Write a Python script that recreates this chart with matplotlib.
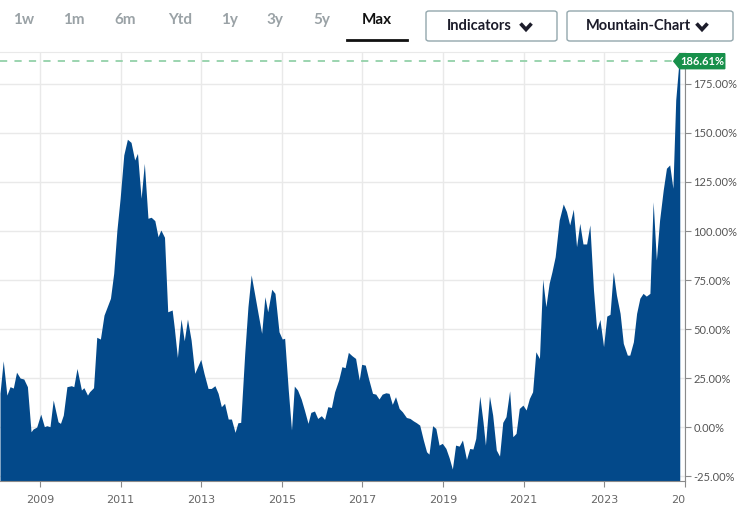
import matplotlib
matplotlib.use("Agg")
import matplotlib.pyplot as plt
import matplotlib.transforms as mtransforms
from matplotlib.patches import FancyBboxPatch, Polygon
from matplotlib.lines import Line2D

# performance in % over time (decimal years)
years = [2008.01, 2008.09, 2008.18, 2008.26, 2008.34, 2008.42, 2008.51, 2008.60, 2008.69, 2008.78,
         2008.83, 2008.92, 2009.02, 2009.11, 2009.17, 2009.25, 2009.33, 2009.45, 2009.51, 2009.58,
         2009.67, 2009.78, 2009.84, 2009.92, 2010.03, 2010.09, 2010.18, 2010.23, 2010.33, 2010.41,
         2010.50, 2010.59, 2010.75, 2010.83, 2010.91, 2010.99, 2011.08, 2011.17, 2011.26, 2011.35,
         2011.42, 2011.51, 2011.59, 2011.68, 2011.76, 2011.85, 2011.93, 2012.00, 2012.09, 2012.17,
         2012.28, 2012.33, 2012.41, 2012.50, 2012.58, 2012.66, 2012.75, 2012.84, 2012.91, 2012.99,
         2013.07, 2013.17, 2013.25, 2013.34, 2013.42, 2013.50, 2013.58, 2013.67, 2013.75, 2013.84,
         2013.91, 2013.98, 2014.08, 2014.16, 2014.24, 2014.33, 2014.41, 2014.50, 2014.58, 2014.65,
         2014.75, 2014.83, 2014.93, 2015.01, 2015.07, 2015.16, 2015.24, 2015.31, 2015.39, 2015.48,
         2015.56, 2015.65, 2015.72, 2015.81, 2015.89, 2015.98, 2016.06, 2016.14, 2016.23, 2016.31,
         2016.41, 2016.49, 2016.57, 2016.65, 2016.74, 2016.83, 2016.92, 2016.98, 2017.07, 2017.15,
         2017.25, 2017.33, 2017.41, 2017.49, 2017.58, 2017.66, 2017.74, 2017.82, 2017.91, 2017.99,
         2018.09, 2018.18, 2018.26, 2018.34, 2018.42, 2018.51, 2018.59, 2018.65, 2018.74, 2018.82,
         2018.90, 2018.98, 2019.07, 2019.15, 2019.23, 2019.31, 2019.40, 2019.48, 2019.58, 2019.66,
         2019.74, 2019.81, 2019.91, 2019.99, 2020.05, 2020.15, 2020.23, 2020.32, 2020.40, 2020.48,
         2020.56, 2020.65, 2020.73, 2020.81, 2020.89, 2020.98, 2021.06, 2021.14, 2021.22, 2021.30,
         2021.39, 2021.47, 2021.55, 2021.63, 2021.70, 2021.78, 2021.88, 2021.98, 2022.06, 2022.14,
         2022.23, 2022.31, 2022.39, 2022.47, 2022.56, 2022.64, 2022.73, 2022.81, 2022.89, 2022.98,
         2023.06, 2023.14, 2023.22, 2023.30, 2023.39, 2023.47, 2023.57, 2023.63, 2023.72, 2023.80,
         2023.88, 2023.96, 2024.04, 2024.13, 2024.21, 2024.29, 2024.37, 2024.46, 2024.54, 2024.62,
         2024.70, 2024.77, 2024.84, 2024.87]
perf = [17.3, 33.8, 16.3, 20.6, 19.9, 28.0, 25.0, 24.5, 20.6, -2.4,
        -1.0, 0.0, 6.6, 0.2, 0.7, 0.2, 13.8, 2.7, 1.9, 6.1,
        20.6, 21.1, 20.6, 29.9, 18.9, 20.1, 16.3, 18.0, 20.1, 45.8,
        44.9, 57.1, 65.7, 78.4, 100.5, 116.7, 138.8, 146.8, 145.2, 136.2,
        139.6, 116.7, 134.5, 106.5, 107.0, 105.3, 97.1, 100.5, 96.8, 58.8,
        59.7, 51.2, 35.5, 55.1, 44.0, 55.1, 44.4, 27.4, 30.8, 34.5,
        27.4, 19.7, 19.7, 21.1, 17.2, 10.4, 12.1, 4.1, 4.1, -2.7,
        2.2, 2.4, 37.6, 61.4, 77.6, 67.3, 58.0, 47.8, 66.5, 58.8,
        70.3, 68.2, 48.6, 44.9, 45.3, 18.9, -1.5, 20.9, 18.9, 14.3,
        8.7, 1.9, 7.5, 8.2, 4.4, 5.8, 3.9, 10.4, 10.0, 18.0,
        24.0, 30.8, 30.3, 38.1, 36.4, 35.0, 24.0, 32.0, 31.6, 24.8,
        17.2, 16.8, 14.3, 16.8, 17.5, 17.2, 11.6, 15.5, 9.5, 7.8,
        4.9, 4.4, 3.2, 2.2, 1.0, -6.6, -12.6, -13.8, 0.7, -0.7,
        -9.2, -8.3, -10.9, -15.6, -21.4, -9.2, -9.7, -6.6, -16.5, -10.9,
        -11.2, -5.8, 15.8, 2.7, -9.2, 15.8, 6.1, -11.7, -14.8, 2.4,
        5.3, 18.5, -4.9, -3.2, 9.5, 11.2, 8.7, 14.6, 18.0, 38.4,
        35.0, 75.4, 61.4, 73.3, 79.2, 86.9, 105.6, 113.8, 109.9, 103.1,
        111.1, 92.0, 103.9, 93.4, 93.4, 103.1, 69.9, 49.5, 54.9, 41.0,
        56.6, 57.5, 79.2, 67.3, 58.0, 42.7, 36.7, 36.7, 43.5, 58.0,
        65.7, 68.2, 66.8, 68.2, 114.9, 85.2, 105.6, 120.9, 132.0, 133.7,
        121.8, 166.8, 183.8, 186.61]

year_ticks = [2009, 2011, 2013, 2015, 2017, 2019, 2021, 2023, 2025]
pct_ticks = [-25, 0, 25, 50, 75, 100, 125, 150, 175]
tabs = ["1w", "1m", "6m", "Ytd", "1y", "3y", "5y", "Max"]
tab_x = [24, 74, 125, 180, 229, 275, 322, 377]

W, H = 752, 515
fig = plt.figure(figsize=(W / 100, H / 100), dpi=100)
fig.patch.set_facecolor("white")
plt.rcParams["font.family"] = ["Lato", "DejaVu Sans"]

def fx(x):
    return x / W

def fy(y):
    return 1 - y / H

ax = fig.add_axes([0, fy(481), fx(685), (481 - 52) / H])
ymin, ymax = -27.5, 191.3
ax.fill_between(years, perf, ymin - 5, color="#03498a", lw=0, zorder=2)
ax.set_xlim(2008.01, 2024.93)
ax.set_ylim(ymin, ymax)

ax.set_xticks(year_ticks)
ax.set_xticklabels([str(y) for y in year_ticks], family="DejaVu Sans")
ax.yaxis.tick_right()
ax.set_yticks(pct_ticks)
ax.set_yticklabels(["%.2f%%" % v for v in pct_ticks])
ax.tick_params(axis="x", colors="#8a8a8a", labelcolor="#666666", labelsize=8, length=4, pad=6)
ax.tick_params(axis="y", colors="#8a8a8a", labelcolor="#555555", labelsize=8, length=4, pad=2)
ax.grid(True, color="#e9e9e9", lw=1, zorder=0)
ax.set_axisbelow(True)
ax.spines["left"].set_visible(False)
ax.spines["top"].set_color("#e9e9e9")
ax.spines["right"].set_color("#8a8a8a")
ax.spines["bottom"].set_color("#8a8a8a")

# the last year label is cut by the right edge
clip = mtransforms.TransformedBbox(mtransforms.Bbox([[0, 0], [fx(685), 1]]), fig.transFigure)
last = ax.get_xticklabels()[-1]
last.set_clip_on(True)
last.set_clip_box(clip)

# last value line and badge
last_val = perf[-1]
ax.plot([2008.01, years[-1] - 0.15], [last_val, last_val], ls=(0, (4, 4)), color="#93d1a9", lw=1.3, zorder=3)
fig.canvas.draw()
xd, yd = ax.transData.transform((years[-1], last_val))
badge = Polygon([(xd - 6, yd), (xd, yd + 7.5), (xd + 45, yd + 7.5), (xd + 45, yd - 7.5), (xd, yd - 7.5)],
                closed=True, color="#17904a", transform=None, zorder=5)
fig.patches.append(badge)
fig.text((xd + 23) / W, yd / H, "%.2f%%" % last_val, color="white", fontsize=8, fontweight="bold",
         ha="center", va="center", zorder=6)

# range tabs
for t, x in zip(tabs, tab_x):
    c = "#111111" if t == "Max" else "#9aa2a6"
    fig.text(fx(x), fy(20), t, color=c, fontsize=11, fontweight="bold", ha="center", va="center")
fig.lines.append(Line2D([fx(347), fx(407)], [fy(40), fy(40)], color="#111111", lw=2, transform=fig.transFigure))

# dropdown buttons
for x0, x1, label, tx, cx in [(426, 557, "Indicators", 479, 526), (567, 733, "Mountain-Chart", 638, 702)]:
    box = FancyBboxPatch((fx(x0), fy(41)), fx(x1 - x0), (41 - 11) / H,
                         boxstyle="round,pad=0,rounding_size=0.004", fc="white", ec="#93a7ad", lw=1,
                         transform=fig.transFigure)
    fig.patches.append(box)
    fig.text(fx(tx), fy(26), label, color="#1c1c2a", fontsize=10.5, fontweight="bold", ha="center", va="center")
    fig.lines.append(Line2D([fx(cx - 5.5), fx(cx), fx(cx + 5.5)], [fy(23.5), fy(29.5), fy(23.5)], color="#1c1c2a",
                            lw=2.6, solid_capstyle="butt", solid_joinstyle="miter", transform=fig.transFigure))

fig.savefig("out.png", dpi=100)
